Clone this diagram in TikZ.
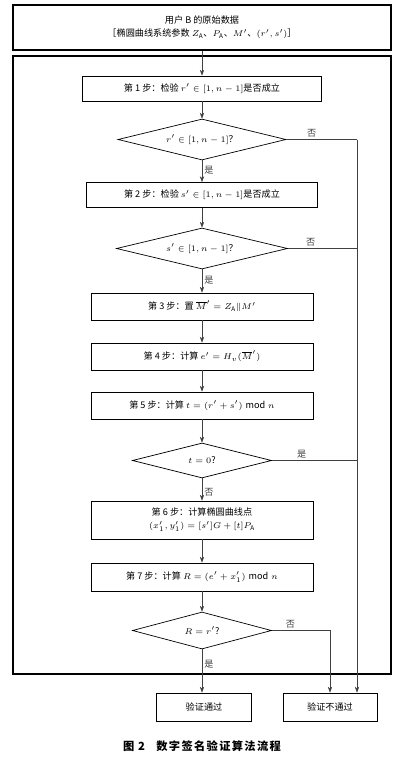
\documentclass[tikz,border=0pt]{standalone}
\usepackage{fontspec}
\setmainfont{Noto Sans CJK SC}
\usetikzlibrary{arrows.meta,positioning,calc,shapes.geometric}
\tikzset{
  stepbox/.style={draw, line width=0.5pt, minimum width=#1, minimum height=6.75mm,
      inner sep=1pt, align=center, font=\fontsize{6.5}{9}\selectfont},
  stepbox/.default=55.5mm,
  dec/.style={diamond, aspect=4, draw, line width=0.5pt, inner sep=0pt, font=\fontsize{6.5}{8}\selectfont},
  lab/.style={font=\fontsize{6.5}{8}\selectfont, inner sep=1.5pt},
  arr/.style={-{Stealth[length=1.5mm,width=1.1mm]}, line width=0.4pt, black!75},
  ln/.style={line width=0.4pt, black!75},
  captxt/.style={font=\fontsize{8}{10}\selectfont\bfseries\addfontfeatures{LetterSpace=12}},
}
\begin{document}
\begin{tikzpicture}[x=0.25mm,y=-0.25mm]
\useasboundingbox (0,0) rectangle (410,770);
% outer frame of the check loop
\draw[line width=0.8pt] (13,56) rectangle (391,674);
\node[stepbox=94.5mm, minimum height=11.25mm, line width=0.8pt] (src) at (202,27.5)
  {用户 B 的原始数据\\［椭圆曲线系统参数 $Z_{\mathrm{A}}$、$P_{\mathrm{A}}$、$M'$、$(r',s')$］};
\node[stepbox=59.75mm, minimum height=6.25mm] (s1) at (202,88.5)
  {第 1 步：检验 $r'\in[1,n-1]$是否成立};
\node[dec, minimum width=42mm, minimum height=10.25mm] (d1) at (202,139.5)
  {$r'\in[1,n-1]$？};
\node[stepbox=57.75mm, minimum height=6.25mm] (s2) at (202,195)
  {第 2 步：检验 $s'\in[1,n-1]$是否成立};
\node[dec, minimum width=42.75mm, minimum height=10.25mm] (d2) at (202,248.5)
  {$s'\in[1,n-1]$？};
\node[stepbox] (s3) at (202,306.5) {第 3 步：置 $\overline{M}'=Z_{\mathrm{A}}\|M'$};
\node[stepbox] (s4) at (202,356.5) {第 4 步：计算 $e'=H_v(\overline{M}')$};
\node[stepbox] (s5) at (202,405.5) {第 5 步：计算 $t=(r'+s')\bmod n$};
\node[dec, minimum width=34.75mm, minimum height=8.75mm] (d3) at (202,460.5) {$t=0$?};
\node[stepbox, minimum height=9.5mm] (s6) at (202,520)
  {第 6 步：计算椭圆曲线点\\$(x_1',y_1')=[s']G+[t]P_{\mathrm{A}}$};
\node[stepbox, minimum height=7mm] (s7) at (202,577) {第 7 步：计算 $R=(e'+x_1')\bmod n$};
\node[dec, minimum width=34.75mm, minimum height=9.25mm] (d4) at (202,630.5) {$R=r'$?};
\node[stepbox=23.75mm, minimum height=7mm] (pass) at (204,707) {验证通过};
\node[stepbox=23.5mm, minimum height=7mm] (fail) at (330,707) {验证不通过};
\coordinate (rt) at (357,139.5);
% main column
\foreach \a/\b in {src/s1,s1/d1,s2/d2,s3/s4,s4/s5,s5/d3,s6/s7,s7/d4}
  \draw[arr] (\a) -- (\b);
\draw[arr] (d1) -- node[lab,right,pos=0.45]{是} (s2);
\draw[arr] (d2) -- node[lab,right,pos=0.45]{是} (s3);
\draw[arr] (d3) -- node[lab,right,pos=0.62]{否} (s6);
\draw[arr] (d4.south) -- node[lab,right,pos=0.35]{是} (d4.south |- pass.north);
% failure branches
\draw[ln] (d1.east) -- node[lab,above,pos=0.36]{否} (rt);
\draw[ln] (d2.east) -- node[lab,above,pos=0.33]{否} (d2.east -| rt);
\draw[ln] (d3.east) -- node[lab,above,pos=0.35]{是} (d3.east -| rt);
\draw[arr] (rt) -- (rt |- fail.north);
\draw[arr] (d4.east) -| node[lab,above,pos=0.16]{否} (fail.north);
\node[captxt] (title) at (202,746) {图 2\quad 数字签名验证算法流程};
\end{tikzpicture}
\end{document}
